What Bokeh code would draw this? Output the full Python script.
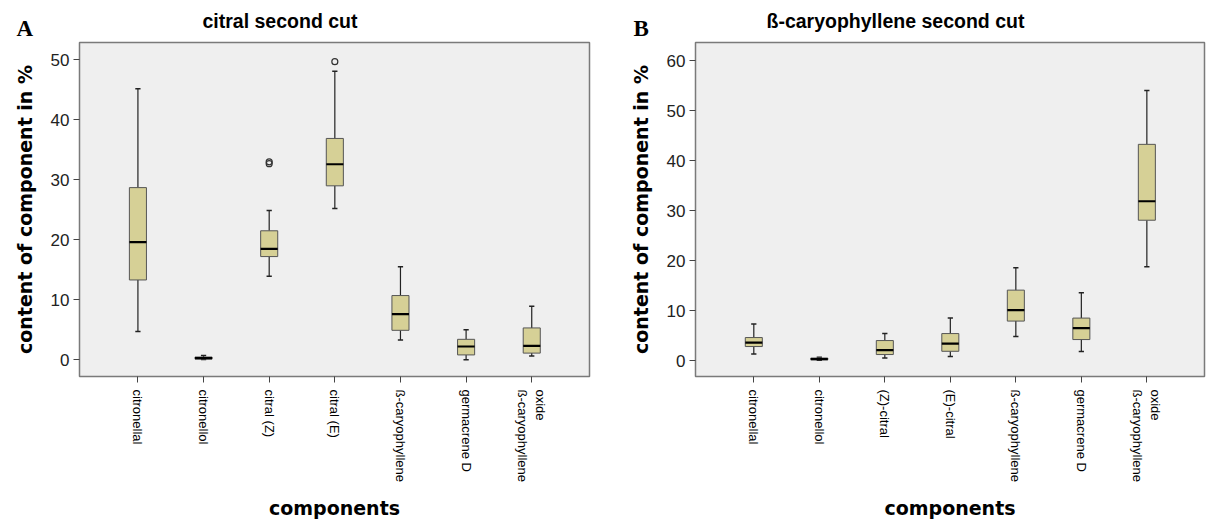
from bokeh.plotting import figure
from bokeh.models import ColumnDataSource, FixedTicker, Title, Range1d
from bokeh.layouts import row
from bokeh.embed import file_html
from bokeh.resources import INLINE

# ---------------- data ----------------
cats_a = ["citronellal", "citronellol", "citral (Z)", "citral (E)",
          "ß-caryophyllene", "germacrene D", "ß-caryophyllene\noxide"]
low_a = [4.7, 0.05, 13.9, 25.2, 3.3, 0.0, 0.6]
q1_a = [13.3, 0.1, 17.2, 29.0, 4.9, 0.8, 1.1]
med_a = [19.6, 0.25, 18.5, 32.6, 7.6, 2.2, 2.3]
q3_a = [28.7, 0.45, 21.5, 36.9, 10.7, 3.4, 5.3]
high_a = [45.2, 0.7, 24.9, 48.1, 15.5, 5.0, 8.9]
out_cat_a = [2, 2, 3]
out_val_a = [33.0, 32.7, 49.7]

cats_b = ["citronellal", "citronellol", "(Z)-citral", "(E)-citral",
          "ß-caryophyllene", "germacrene D", "ß-caryophyllene\noxide"]
low_b = [1.3, 0.05, 0.5, 0.8, 4.8, 1.8, 18.8]
q1_b = [2.8, 0.15, 1.2, 1.85, 7.9, 4.2, 28.1]
med_b = [3.6, 0.3, 2.1, 3.4, 10.1, 6.5, 31.9]
q3_b = [4.6, 0.5, 4.0, 5.4, 14.1, 8.5, 43.3]
high_b = [7.3, 0.65, 5.4, 8.5, 18.6, 13.6, 54.1]
out_cat_b = []
out_val_b = []

yticks_a = [0, 10, 20, 30, 40, 50]
yticks_b = [0, 10, 20, 30, 40, 50, 60]

BOX_FILL = "#d6d096"
FRAME_BG = "#efefef"


def make_panel(cats, low, q1, med, q3, high, oc, ov, yticks, yr, title, letter,
               width, border_left, border_right, title_offset, letter_offset):
    p = figure(width=width, height=521, output_backend="svg", toolbar_location=None,
               x_range=Range1d(-0.89, len(cats) - 1 + 0.88), y_range=Range1d(*yr),
               min_border_left=border_left, min_border_right=border_right,
               min_border_top=42, min_border_bottom=145)
    p.title = None
    # panel letter and main title share the space above the frame
    t_letter = Title(text=letter, align="left", offset=letter_offset,
                     text_font="Liberation Serif", text_font_size="23px",
                     text_font_style="bold", text_color="#000000",
                     standoff=0, vertical_align="top")
    p.add_layout(t_letter, "above")
    t = Title(text=title, align="left", offset=title_offset,
              text_font="Liberation Sans", text_font_size="19.5px",
              text_font_style="bold", text_color="#000000",
              standoff=-33, vertical_align="bottom")
    p.add_layout(t, "above")

    xs = list(range(len(cats)))
    src = ColumnDataSource(dict(x=xs, low=low, q1=q1, med=med, q3=q3, high=high,
                                left=[x - 0.13 for x in xs], right=[x + 0.13 for x in xs],
                                cl=[x - 0.04 for x in xs], cr=[x + 0.04 for x in xs]))
    p.background_fill_color = FRAME_BG
    p.border_fill_color = "white"
    p.outline_line_color = "#7a7a7a"
    p.outline_line_width = 1.5
    p.xgrid.visible = False
    p.ygrid.visible = False

    # whiskers
    p.segment(x0="x", y0="q3", x1="x", y1="high", source=src, line_color="#222222", line_width=1.2)
    p.segment(x0="x", y0="low", x1="x", y1="q1", source=src, line_color="#222222", line_width=1.2)
    p.segment(x0="cl", y0="high", x1="cr", y1="high", source=src, line_color="#222222", line_width=1.5)
    p.segment(x0="cl", y0="low", x1="cr", y1="low", source=src, line_color="#222222", line_width=1.5)
    # boxes
    p.quad(left="left", right="right", bottom="q1", top="q3", source=src,
           fill_color=BOX_FILL, line_color="#555555", line_width=1)
    # medians
    p.segment(x0="left", y0="med", x1="right", y1="med", source=src,
              line_color="#000000", line_width=2.2)
    # outliers
    if oc:
        p.scatter(x=oc, y=ov, marker="circle", size=6, fill_color=None,
                  line_color="#333333", line_width=1.2)

    # axes (rotated multi-line labels: line order reversed so the first line sits left)
    p.xaxis.ticker = FixedTicker(ticks=xs)
    p.xaxis.major_label_overrides = {i: "\n".join(reversed(c.split("\n")))
                                     for i, c in enumerate(cats)}
    p.xaxis.major_label_orientation = "vertical"
    p.xaxis.major_label_text_font = "Liberation Sans"
    p.xaxis.major_label_text_font_size = "13px"
    p.xaxis.major_label_text_color = "#000000"
    p.xaxis.major_label_standoff = 7
    p.xaxis.minor_tick_line_color = None
    p.xaxis.major_tick_in = 0
    p.xaxis.major_tick_out = 6
    p.xaxis.major_tick_line_color = "#444444"
    p.xaxis.axis_line_color = "#7a7a7a"
    p.xaxis.axis_label = "components"
    p.xaxis.axis_label_text_font = "DejaVu Sans"
    p.xaxis.axis_label_text_font_size = "19px"
    p.xaxis.axis_label_text_font_style = "bold"
    p.xaxis.axis_label_text_color = "#000000"
    p.xaxis.axis_label_standoff = 12

    p.yaxis.ticker = FixedTicker(ticks=yticks)
    p.yaxis.major_label_text_font = "Liberation Sans"
    p.yaxis.major_label_text_font_size = "17px"
    p.yaxis.major_label_text_color = "#222222"
    p.yaxis.major_label_standoff = 4
    p.yaxis.minor_tick_line_color = None
    p.yaxis.major_tick_in = 0
    p.yaxis.major_tick_out = 6
    p.yaxis.major_tick_line_color = "#444444"
    p.yaxis.axis_line_color = "#7a7a7a"
    p.yaxis.axis_label = "content of component in %"
    p.yaxis.axis_label_text_font = "DejaVu Sans"
    p.yaxis.axis_label_text_font_size = "19px"
    p.yaxis.axis_label_text_font_style = "bold"
    p.yaxis.axis_label_text_color = "#000000"
    p.yaxis.axis_label_standoff = 12
    return p


pa = make_panel(cats_a, low_a, q1_a, med_a, q3_a, high_a, out_cat_a, out_val_a,
                yticks_a, (-2.8, 52.9), "citral second cut", "A",
                603, 79, 14, 123, -63)
pb = make_panel(cats_b, low_b, q1_b, med_b, q3_b, high_b, out_cat_b, out_val_b,
                yticks_b, (-3.2, 63.7), "ß-caryophyllene second cut", "B",
                604, 92, 3, 71, -62)

layout = row(pa, pb, spacing=0)
open("out.html", "w").write(file_html(layout, INLINE))
